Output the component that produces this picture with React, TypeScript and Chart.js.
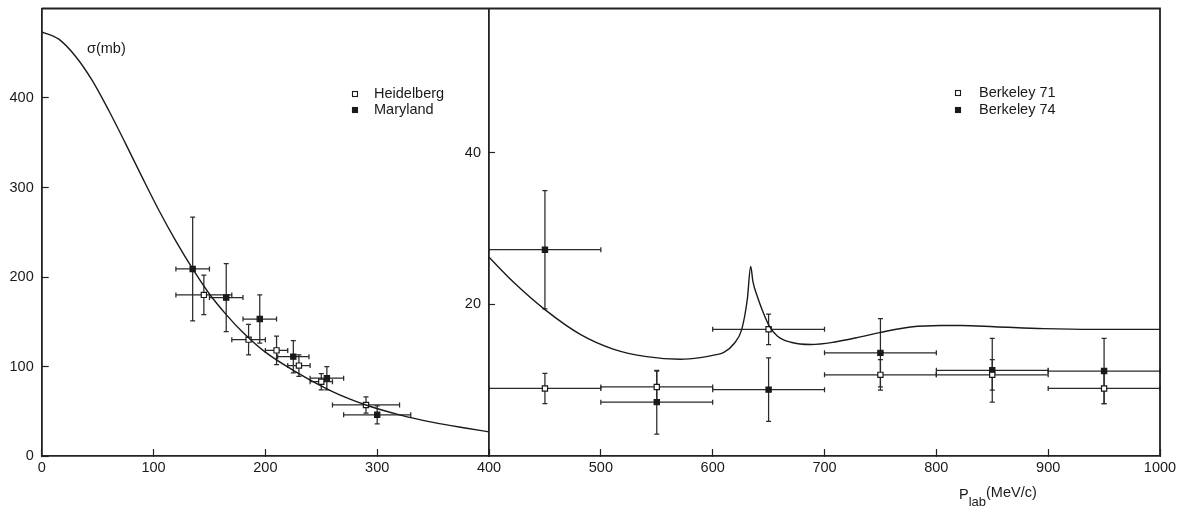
import React, { useEffect, useRef } from "react";
import { Chart, registerables } from "chart.js";

Chart.register(...registerables);

// ---- Data ----
const xTickValues = [0, 100, 200, 300, 400, 500, 600, 700, 800, 900, 1000];
const leftYTickValues = [0, 100, 200, 300, 400];
const rightYTickValues = [20, 40];

// Left panel (sigma in mb)
const heidelbergX = [145, 185, 210, 230, 250, 290];
const heidelbergY = [180, 130, 118, 101, 83, 57];
const heidelbergXErr = [25, 15, 10, 10, 10, 30];
const heidelbergYErr = [22, 17, 16, 12, 9, 9];

const marylandX = [135, 165, 195, 225, 255, 300];
const marylandY = [209, 177, 153, 111, 87, 46];
const marylandXErr = [15, 15, 15, 14, 15, 30];
const marylandYErr = [58, 38, 27, 18, 13, 10];

const leftCurveX = [0, 15, 30, 45, 60, 75, 90, 105, 120, 135, 150, 165, 180, 200, 230, 260, 290, 320, 350, 380, 400];
const leftCurveY = [474, 466, 447, 420, 386, 349, 311, 274, 240, 209, 181, 158, 138, 116, 92, 72, 57, 46, 37.5, 31, 27];

// Right panel
const berkeley71X = [450, 550, 650, 750, 850, 950];
const berkeley71Y = [8.9, 9.1, 16.7, 10.7, 10.7, 8.9];
const berkeley71XErr = [50, 50, 50, 50, 50, 50];
const berkeley71YErr = [2, 2.1, 2, 2, 2, 2];

const berkeley74X = [450, 550, 650, 750, 850, 950];
const berkeley74Y = [27.2, 7.1, 8.75, 13.6, 11.3, 11.2];
const berkeley74XErr = [50, 50, 50, 50, 50, 50];
const berkeley74YErr = [7.8, 4.2, 4.2, 4.5, 4.2, 4.3];

const rightCurveX = [400, 422, 450, 482, 511, 541, 571, 589, 601, 610, 619, 626, 631, 634, 636, 640, 645, 650, 658, 670, 688, 708, 732, 750, 777, 804, 822, 852, 896, 941, 1000];
const rightCurveY = [26.2, 22.9, 19.3, 16.0, 14.1, 13.1, 12.75, 12.97, 13.3, 13.65, 14.8, 16.7, 20.7, 25.0, 23.0, 21.0, 19.0, 17.3, 15.8, 15.0, 14.7, 15.0, 15.7, 16.3, 17.0, 17.2, 17.2, 17.05, 16.8, 16.7, 16.7];

const zip = (xs: number[], ys: number[]) => xs.map((x, i) => ({ x, y: ys[i] }));

const INK = "#1a1a1a";
const FONT = "'Liberation Sans', Arial, sans-serif";

const errorBarPlugin = {
  id: "errorBars",
  beforeDatasetsDraw(chart: any) {
    const ctx = chart.ctx;
    const xs = chart.scales.x;
    chart.data.datasets.forEach((ds: any) => {
      if (!ds.errX) return;
      const ys = chart.scales[ds.yAxisID];
      ctx.save();
      ctx.strokeStyle = "#2a2a2a";
      ctx.lineWidth = 1.25;
      const c = 2.5;
      ds.data.forEach((p: any, j: number) => {
        const ex = ds.errX[j];
        const ey = ds.errY[j];
        const x0 = xs.getPixelForValue(p.x - ex);
        const x1 = xs.getPixelForValue(p.x + ex);
        const cx = xs.getPixelForValue(p.x);
        const cy = ys.getPixelForValue(p.y);
        const y0 = ys.getPixelForValue(p.y - ey);
        const y1 = ys.getPixelForValue(p.y + ey);
        ctx.beginPath();
        ctx.moveTo(x0, cy); ctx.lineTo(x1, cy);
        ctx.moveTo(x0, cy - c); ctx.lineTo(x0, cy + c);
        ctx.moveTo(x1, cy - c); ctx.lineTo(x1, cy + c);
        ctx.moveTo(cx, y0); ctx.lineTo(cx, y1);
        ctx.moveTo(cx - c, y0); ctx.lineTo(cx + c, y0);
        ctx.moveTo(cx - c, y1); ctx.lineTo(cx + c, y1);
        ctx.stroke();
      });
      ctx.restore();
    });
  },
};

const decorPlugin = {
  id: "decor",
  afterDraw(chart: any) {
    const ctx = chart.ctx;
    const a = chart.chartArea;
    ctx.save();
    // frame top and right
    ctx.strokeStyle = "#222";
    ctx.lineWidth = 1.8;
    ctx.beginPath();
    ctx.moveTo(a.left, a.top);
    ctx.lineTo(a.right, a.top);
    ctx.lineTo(a.right, a.bottom);
    ctx.stroke();

    ctx.fillStyle = INK;
    ctx.textBaseline = "middle";
    ctx.textAlign = "left";
    ctx.font = `14.5px ${FONT}`;
    ctx.fillText("σ(mb)", 87, 49);

    const legend = (mx: number, tx: number, y: number, label: string, filled: boolean) => {
      ctx.lineWidth = 1.1;
      ctx.strokeStyle = INK;
      ctx.fillStyle = filled ? INK : "#fff";
      ctx.fillRect(mx - 2.5, y - 2.5, 5, 5);
      ctx.strokeRect(mx - 2.5, y - 2.5, 5, 5);
      ctx.fillStyle = INK;
      ctx.font = `14.5px ${FONT}`;
      ctx.fillText(label, tx, y);
    };
    legend(355, 374, 94, "Heidelberg", false);
    legend(355, 374, 110, "Maryland", true);
    legend(958, 979, 93, "Berkeley 71", false);
    legend(958, 979, 110, "Berkeley 74", true);

    // x-axis title with subscript
    ctx.textBaseline = "alphabetic";
    ctx.font = `14.5px ${FONT}`;
    let x = 959;
    ctx.fillText("P", x, 499);
    x += ctx.measureText("P").width;
    ctx.font = `13px ${FONT}`;
    ctx.fillText("lab", x, 506);
    x += ctx.measureText("lab").width;
    ctx.font = `14.5px ${FONT}`;
    ctx.fillText("(MeV/c)", x, 497);
    ctx.restore();
  },
};

const noPad = (s: any) => {
  s.paddingTop = 0;
  s.paddingBottom = 0;
  s.paddingLeft = 0;
  s.paddingRight = 0;
};

export default function App() {
  const ref = useRef<HTMLCanvasElement | null>(null);

  useEffect(() => {
    if (!ref.current) return;
    const point = (filled: boolean) => ({
      pointStyle: "rect" as const,
      pointRadius: 3.7,
      pointHoverRadius: 3.7,
      pointBackgroundColor: filled ? INK : "#ffffff",
      pointBorderColor: INK,
      pointBorderWidth: 1.2,
      showLine: false,
    });
    const chart = new Chart(ref.current, {
      type: "scatter",
      data: {
        datasets: [
          {
            label: "left curve",
            data: zip(leftCurveX, leftCurveY),
            yAxisID: "y",
            showLine: true,
            borderColor: INK,
            borderWidth: 1.4,
            pointRadius: 0,
            cubicInterpolationMode: "monotone",
          } as any,
          {
            label: "right curve",
            data: zip(rightCurveX, rightCurveY),
            yAxisID: "y2",
            showLine: true,
            borderColor: INK,
            borderWidth: 1.4,
            pointRadius: 0,
            cubicInterpolationMode: "monotone",
          } as any,
          { label: "Heidelberg", data: zip(heidelbergX, heidelbergY), yAxisID: "y", errX: heidelbergXErr, errY: heidelbergYErr, ...point(false) } as any,
          { label: "Maryland", data: zip(marylandX, marylandY), yAxisID: "y", errX: marylandXErr, errY: marylandYErr, ...point(true) } as any,
          { label: "Berkeley 71", data: zip(berkeley71X, berkeley71Y), yAxisID: "y2", errX: berkeley71XErr, errY: berkeley71YErr, ...point(false) } as any,
          { label: "Berkeley 74", data: zip(berkeley74X, berkeley74Y), yAxisID: "y2", errX: berkeley74XErr, errY: berkeley74YErr, ...point(true) } as any,
        ],
      },
      options: {
        animation: false,
        responsive: false,
        layout: { padding: { left: 0, top: 8.5, right: 24, bottom: 0 } },
        plugins: { legend: { display: false }, tooltip: { enabled: false } },
        scales: {
          x: {
            type: "linear",
            min: 0,
            max: 1000,
            afterBuildTicks: (s: any) => { s.ticks = xTickValues.map((v) => ({ value: v })); },
            afterFit: (s: any) => { s.height = 54; noPad(s); },
            grid: { display: true, drawOnChartArea: false, tickLength: -7, color: "#222", tickWidth: 1.2 },
            border: { display: true, color: "#222", width: 1.8 },
            ticks: {
              color: INK,
              padding: 10,
              font: { size: 14.5, family: FONT },
              maxRotation: 0,
              autoSkip: false,
              callback: (v: any) => String(v),
            },
          },
          y: {
            type: "linear",
            position: "left",
            min: 0,
            max: 500,
            afterBuildTicks: (s: any) => { s.ticks = leftYTickValues.map((v) => ({ value: v })); },
            afterFit: (s: any) => { s.width = 41.7; noPad(s); },
            grid: { display: true, drawOnChartArea: false, tickLength: -7, color: "#222", tickWidth: 1.2 },
            border: { display: true, color: "#222", width: 1.8 },
            ticks: { color: INK, padding: 15, font: { size: 14.5, family: FONT }, callback: (v: any) => String(v) },
          },
          y2: {
            type: "linear",
            axis: "y",
            position: { x: 400 },
            min: 0,
            max: 59,
            afterBuildTicks: (s: any) => { s.ticks = rightYTickValues.map((v) => ({ value: v })); },
            afterFit: (s: any) => { noPad(s); },
            grid: { display: true, drawOnChartArea: false, tickLength: -7, color: "#222", tickWidth: 1.2 },
            border: { display: true, color: "#222", width: 1.8 },
            ticks: { color: INK, padding: 15, font: { size: 14.5, family: FONT }, callback: (v: any) => String(v) + "  " },
          } as any,
        },
      },
      plugins: [errorBarPlugin, decorPlugin],
    });
    return () => chart.destroy();
  }, []);

  return (
    <div style={{ position: "absolute", left: 0, top: 0, width: 1184, height: 510, background: "#fff" }}>
      <canvas ref={ref} width={1184} height={510} style={{ display: "block" }} />
    </div>
  );
}
